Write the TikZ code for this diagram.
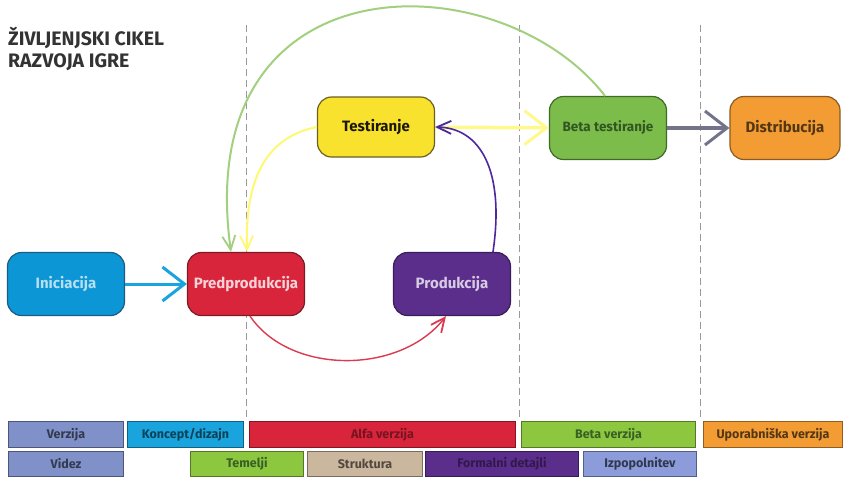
\documentclass[tikz,border=0pt]{standalone}
\usepackage{fontspec}
\setmainfont{Fira Sans}
\usetikzlibrary{arrows.meta}
\definecolor{cBlue}{HTML}{0C96D6}
\definecolor{cBlueD}{HTML}{1D5C80}
\definecolor{cRed}{HTML}{D8253B}
\definecolor{cRedD}{HTML}{7A1C24}
\definecolor{cPur}{HTML}{5B2E8C}
\definecolor{cPurD}{HTML}{3A1E5C}
\definecolor{cYel}{HTML}{F8E22E}
\definecolor{cYelD}{HTML}{6B5F22}
\definecolor{cGrn}{HTML}{7CBC4A}
\definecolor{cGrnD}{HTML}{3D6B2A}
\definecolor{cOra}{HTML}{F39C34}
\definecolor{cOraD}{HTML}{8A5A22}
\definecolor{cPeri}{HTML}{8090C8}
\definecolor{cPeriL}{HTML}{8C9CDA}
\definecolor{cTan}{HTML}{CBB79E}
\definecolor{cBarGrn}{HTML}{8DC63F}
\definecolor{cBarBlue}{HTML}{1AA4DD}
\tikzset{
  stage/.style={draw, line width=1.2pt, rounded corners=14pt, minimum width=117pt, minimum height=63pt, font=\bfseries\fontsize{15}{17}\selectfont, inner sep=0pt},
  bar/.style={draw=#1!60!black, line width=1pt, anchor=north west, inner sep=0pt, font=\bfseries\fontsize{12.5}{14}\selectfont},
  vline/.style={draw=gray!80, line width=0.8pt, dash pattern=on 7pt off 4pt},
  chev/.style={-{Straight Barb[length=22pt, width=34pt, line width=3pt]}},
  smallchev/.style={-{Straight Barb[length=14pt, width=13pt, line width=1.8pt]}}
}
\begin{document}
\begin{tikzpicture}[x=1pt,y=-1pt]
\useasboundingbox[fill=white] (0,0) rectangle (845,480);
% title
\node[anchor=north west, align=left, font=\bfseries\fontsize{19.5}{22}\selectfont, text=black!80, inner sep=0pt] (title) at (8,27) {ŽIVLJENJSKI CIKEL\\RAZVOJA IGRE};
% dashed lines
\coordinate (d1t) at (246,25); \coordinate (d1b) at (246,420);
\coordinate (d2t) at (519,25); \coordinate (d2b) at (519,420);
\coordinate (d3t) at (700,25); \coordinate (d3b) at (700,420);
\draw[vline] (d1t) -- (d1b);
\draw[vline] (d2t) -- (d2b);
\draw[vline] (d3t) -- (d3b);
% stages
\node[stage, fill=cBlue, draw=cBlueD, text=cBlue!30!white] (ini) at (66,284) {Iniciacija};
\node[stage, fill=cRed, draw=cRedD, text=cRed!20!white] (pre) at (246,284) {Predprodukcija};
\node[stage, fill=cPur, draw=cPurD, text=cPur!25!white] (pro) at (452,284) {Produkcija};
\node[stage, fill=cYel, draw=cYelD, text=black!75!cYelD, minimum height=60pt] (tes) at (376,127) {Testiranje};
\node[stage, fill=cGrn, draw=cGrnD, text=cGrnD!80!black, font=\bfseries\fontsize{13.5}{15}\selectfont] (bet) at (608,128) {Beta testiranje};
\node[stage, fill=cOra, draw=cOraD, text=cOraD!60!black, minimum width=110pt] (dis) at (785,128) {Distribucija};
% arrows
\draw[chev, draw=cBarBlue, line width=3pt] (ini) -- (pre);
\draw[chev, draw=yellow!45!white, line width=3.5pt] (tes) -- (bet);
\draw[chev, draw=gray!90!blue, line width=3.5pt] (bet) -- (dis);
\draw[smallchev, draw=yellow!55!white, line width=2pt] (tes.west) .. controls (262,138) and (245,185) .. ([xshift=1pt]pre.north);
\draw[smallchev, draw=cGrn!70!white, line width=2pt] ([xshift=-3pt]bet.north) .. controls (500,-40) and (190,-45) .. ([xshift=-15pt]pre.north);
\draw[smallchev, draw=cPur!85!blue, line width=1.6pt] ([xshift=41pt]pro.north) .. controls (505,170) and (480,128) .. (tes.east);
\draw[smallchev, draw=cRed!90!white, line width=1.4pt] ([xshift=4pt]pre.south) .. controls (290,375) and (400,375) .. ([xshift=-6pt]pro.south);
% bars row 1
\node[bar=cPeri, fill=cPeri, minimum width=115pt, minimum height=26pt, text=cPeri!40!black] (b1) at (8,421) {Verzija};
\node[bar=cBarBlue, fill=cBarBlue, minimum width=116pt, minimum height=26pt, text=cBarBlue!40!black] (b2) at (127,421) {Koncept/dizajn};
\node[bar=cRed, fill=cRed, minimum width=266pt, minimum height=26pt, text=cRed!55!black] (b3) at (249,421) {Alfa verzija};
\node[bar=cBarGrn, fill=cBarGrn, minimum width=174pt, minimum height=26pt, text=cGrnD!90!black] (b4) at (521,421) {Beta verzija};
\node[bar=cOra, fill=cOra, minimum width=139pt, minimum height=26pt, text=cOraD!60!black] (b5) at (703,421) {Uporabniška verzija};
% bars row 2
\node[bar=cPeri, fill=cPeri, minimum width=115pt, minimum height=25pt, text=cPeri!40!black] (c1) at (8,451) {Videz};
\node[bar=cBarGrn, fill=cBarGrn, minimum width=113pt, minimum height=25pt, text=cGrnD!90!black] (c2) at (190,451) {Temelji};
\node[bar=cTan, fill=cTan, minimum width=115pt, minimum height=25pt, text=cTan!40!black] (c3) at (307,451) {Struktura};
\node[bar=cPur, fill=cPur, minimum width=153pt, minimum height=25pt, text=cPur!55!black] (c4) at (425,451) {Formalni detajli};
\node[bar=cPeriL, fill=cPeriL, minimum width=113pt, minimum height=25pt, text=cPeriL!35!black] (c5) at (583,451) {Izpopolnitev};
\end{tikzpicture}
\end{document}
